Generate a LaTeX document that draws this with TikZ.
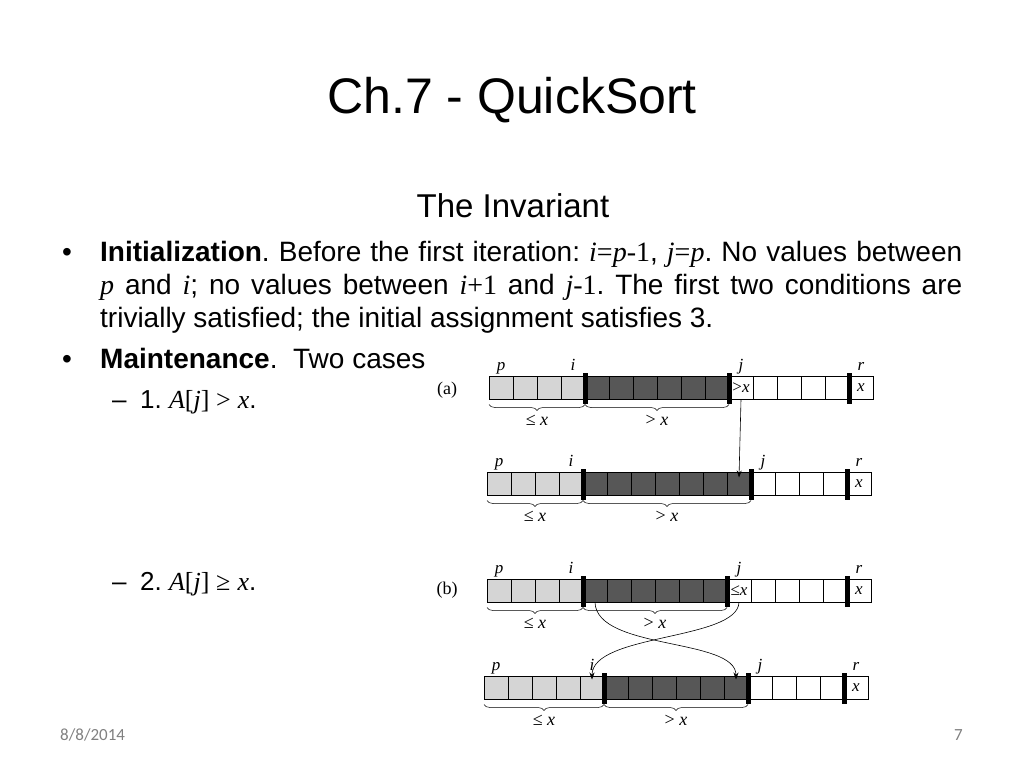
\documentclass[tikz,border=0pt]{standalone}
\usepackage{fontspec}
\setmainfont{Liberation Sans}
\newfontfamily\tms{Liberation Serif}
\newfontfamily\cbr{Carlito}
\usetikzlibrary{arrows.meta,positioning,calc,decorations.pathreplacing}
\newcommand{\varit}[1]{{\tms\itshape #1}}
\newcommand{\varrm}[1]{{\tms #1}}
\frenchspacing

\begin{document}
\begin{tikzpicture}[x=1pt, y=-1pt,
  cell/.style={rectangle, draw, line width=0.6pt, minimum width=24pt, minimum height=23pt, inner sep=0pt, outer sep=0pt, font=\tms\fontsize{17}{17}\selectfont},
  light/.style={cell, fill=gray!33},
  dark/.style={cell, fill=black!66},
  bar/.style={rectangle, fill=black, inner sep=0pt, minimum width=5pt, minimum height=31pt},
  lbl/.style={font=\tms\itshape\fontsize{17}{17}\selectfont, inner sep=0pt, text height=11pt, text depth=3pt},
  under/.style={font=\tms\fontsize{18}{18}\selectfont},
  brace/.style={decorate, decoration={brace, mirror, amplitude=6pt}, line width=0.5pt},
  arrow/.style={-{Stealth[length=7pt, width=5pt]}, line width=0.6pt},
  body/.style={font=\fontsize{28}{33}\selectfont, inner sep=0pt},
  sub/.style={font=\fontsize{26}{26}\selectfont, inner sep=0pt},
  foot/.style={font=\cbr\fontsize{17}{17}\selectfont, text=gray, inner sep=0pt}
]
\useasboundingbox (0,0) rectangle (1024,768);

% title and text
\node[font=\fontsize{50}{50}\selectfont, anchor=base] (title) at (512,113) {Ch.7 - QuickSort};
\node[font=\fontsize{33}{33}\selectfont, anchor=base] (head) at (513,217) {The Invariant};

\node[body, anchor=base] (dot1) at (67,261) {•};
\node[body, anchor=base west, text width=862pt, align=justify] (init) at (100,261)
  {\hyphenpenalty=10000 \textbf{Initialization}. Before the first iteration: \varit{i}\varrm{=}\varit{p}\varrm{-1}, \varit{j}\varrm{=}\varit{p}. No values between \varit{p} and \varit{i}; no values between \varit{i}\varrm{+1} and \varit{j}\varrm{-1}. The first two conditions are trivially satisfied; the initial assignment satisfies 3.};

\node[body, anchor=base] (dot2) at (67,368) {•};
\node[body, anchor=base west] (maint) at (100,368) {\textbf{Maintenance}.\ \ Two cases};
\node[sub, anchor=base west] (dash1) at (112,408) {–};
\node[sub, anchor=base west] (case1) at (140,408) {1. \varit{A}\varrm{[}\varit{j}\varrm{] >} \varit{x}.};
\node[sub, anchor=base west] (dash2) at (112,590) {–};
\node[sub, anchor=base west] (case2) at (140,590) {2. \varit{A}\varrm{[}\varit{j}\varrm{] ≥} \varit{x}.};

% footer
\node[foot, anchor=base west] (date) at (60,740) {8/8/2014};
\node[foot, anchor=base east] (page) at (963,740) {7};

% case (a), before
\node[under] (casea) at (447,390) {(a)};
\foreach \k in {1,...,4} \node[light] (a1c\k) at ({477+24*\k},388) {};
\foreach \k in {5,...,10} \node[dark] (a1c\k) at ({477+24*\k},388) {};
\foreach \k in {11,...,16} \node[cell] (a1c\k) at ({477+24*\k},388) {};
\node[font=\tms\fontsize{17}{17}\selectfont] (a1gt) at (a1c11) {>\textit{x}};
\node[font=\tms\itshape\fontsize{17}{17}\selectfont] (a1x) at (a1c16) {x};
\node[bar] (a1i) at (a1c4.east) {};
\node[bar] (a1j) at (a1c10.east) {};
\node[bar] (a1r) at (a1c15.east) {};
\node[lbl, above=3pt of a1c1] (a1p) {p};
\node[lbl, above=3pt of a1c4] (a1il) {i};
\node[lbl, above=3pt of a1c11] (a1jl) {j};
\node[lbl, above=3pt of a1c16] (a1rl) {r};
\draw[brace] ($(a1c1.south west)+(0,5)$) -- ($(a1c4.south east)+(0,5)$) node[midway, below=7pt, under] {≤ \textit{x}};
\draw[brace] ($(a1c5.south west)+(0,5)$) -- ($(a1c10.south east)+(0,5)$) node[midway, below=7pt, under] {> \textit{x}};

% case (a), after
\foreach \k in {1,...,4} \node[light] (a2c\k) at ({475+24*\k},484) {};
\foreach \k in {5,...,11} \node[dark] (a2c\k) at ({475+24*\k},484) {};
\foreach \k in {12,...,16} \node[cell] (a2c\k) at ({475+24*\k},484) {};
\node[font=\tms\itshape\fontsize{17}{17}\selectfont] (a2x) at (a2c16) {x};
\node[bar] (a2i) at (a2c4.east) {};
\node[bar] (a2j) at (a2c11.east) {};
\node[bar] (a2r) at (a2c15.east) {};
\node[lbl, above=3pt of a2c1] (a2p) {p};
\node[lbl, above=3pt of a2c4] (a2il) {i};
\node[lbl, above=3pt of a2c12] (a2jl) {j};
\node[lbl, above=3pt of a2c16] (a2rl) {r};
\draw[brace] ($(a2c1.south west)+(0,5)$) -- ($(a2c4.south east)+(0,5)$) node[midway, below=7pt, under] {≤ \textit{x}};
\draw[brace] ($(a2c5.south west)+(0,5)$) -- ($(a2c11.south east)+(0,5)$) node[midway, below=7pt, under] {> \textit{x}};

\draw[arrow] (a1c11.south) -- ($(a2c11.north)+(0,5)$);

% case (b), before
\node[under] (caseb) at (447,590) {(b)};
\foreach \k in {1,...,4} \node[light] (b1c\k) at ({475+24*\k},591) {};
\foreach \k in {5,...,10} \node[dark] (b1c\k) at ({475+24*\k},591) {};
\foreach \k in {11,...,16} \node[cell] (b1c\k) at ({475+24*\k},591) {};
\node[font=\tms\fontsize{17}{17}\selectfont] (b1le) at (b1c11) {≤\textit{x}};
\node[font=\tms\itshape\fontsize{17}{17}\selectfont] (b1x) at (b1c16) {x};
\node[bar] (b1i) at (b1c4.east) {};
\node[bar] (b1j) at (b1c10.east) {};
\node[bar] (b1r) at (b1c15.east) {};
\node[lbl, above=3pt of b1c1] (b1p) {p};
\node[lbl, above=3pt of b1c4] (b1il) {i};
\node[lbl, above=3pt of b1c11] (b1jl) {j};
\node[lbl, above=3pt of b1c16] (b1rl) {r};
\draw[brace] ($(b1c1.south west)+(0,5)$) -- ($(b1c4.south east)+(0,5)$) node[midway, below=7pt, under] {≤ \textit{x}};
\draw[brace] ($(b1c5.south west)+(0,5)$) -- ($(b1c10.south east)+(0,5)$) node[midway, below=7pt, under] {> \textit{x}};

% case (b), after
\foreach \k in {1,...,5} \node[light] (b2c\k) at ({472+24*\k},688) {};
\foreach \k in {6,...,11} \node[dark] (b2c\k) at ({472+24*\k},688) {};
\foreach \k in {12,...,16} \node[cell] (b2c\k) at ({472+24*\k},688) {};
\node[font=\tms\itshape\fontsize{17}{17}\selectfont] (b2x) at (b2c16) {x};
\node[bar] (b2i) at (b2c5.east) {};
\node[bar] (b2j) at (b2c11.east) {};
\node[bar] (b2r) at (b2c15.east) {};
\node[lbl, above=3pt of b2c1] (b2p) {p};
\node[lbl, above=3pt of b2c5] (b2il) {i};
\node[lbl, above=3pt of b2c12] (b2jl) {j};
\node[lbl, above=3pt of b2c16] (b2rl) {r};
\draw[brace] ($(b2c1.south west)+(0,5)$) -- ($(b2c5.south east)+(0,5)$) node[midway, below=7pt, under] {≤ \textit{x}};
\draw[brace] ($(b2c6.south west)+(0,5)$) -- ($(b2c11.south east)+(0,5)$) node[midway, below=7pt, under] {> \textit{x}};

\draw[arrow] (b1c5.south) .. controls +(2,48) and +(0,-42) .. ($(b2c11.north)+(0,3)$);
\draw[arrow] (b1c11.south) .. controls +(-2,38) and +(0,-46) .. ($(b2c5.north)+(0,3)$);

\end{tikzpicture}
\end{document}
